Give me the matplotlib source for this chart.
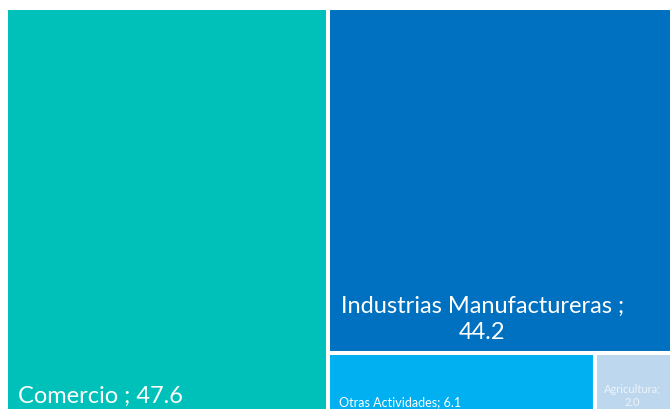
import matplotlib.pyplot as plt
from matplotlib.patches import Rectangle

labels = ["Comercio", "Industrias Manufactureras", "Otras Actividades", "Agricultura"]
values = [47.6, 44.2, 6.1, 2.0]
colors = ["#00C1B9", "#0070C0", "#00B0F0", "#BDD7EE"]

plt.rcParams["font.family"] = ["Lato", "DejaVu Sans"]

fig = plt.figure(figsize=(6.7, 4.1), dpi=100)
# plot area runs a little past the right and bottom edges of the picture
ax = fig.add_axes([6 / 670, -7 / 410, 676 / 670, 408 / 410])
ax.set_xlim(0, 1)
ax.set_ylim(0, 1)
ax.axis("off")

total = sum(values)
rest = sum(values[1:])
small = sum(values[2:])

# slice-and-dice layout
w0 = values[0] / total
h1 = values[1] / rest
w2 = values[2] / small
rects = [
    (0, 0, w0, 1),
    (w0, 1 - h1, 1 - w0, h1),
    (w0, 0, (1 - w0) * w2, 1 - h1),
    (w0 + (1 - w0) * w2, 0, (1 - w0) * (1 - w2), 1 - h1),
]

for (x, y, w, h), c in zip(rects, colors):
    ax.add_patch(Rectangle((x, y), w, h, facecolor=c, edgecolor="white", linewidth=2.9))

x, y, w, h = rects[0]
ax.annotate(f"{labels[0]} ; {values[0]}", (x, y), xytext=(8.5, 10), textcoords="offset points",
            color="white", fontsize=17, ha="left", va="baseline")

x, y, w, h = rects[1]
ax.annotate(f"{labels[1]} ;\n{values[1]}", (x, y), xytext=(9, 11), textcoords="offset points",
            color="white", fontsize=17, ha="left", va="baseline", multialignment="center",
            linespacing=1.3)

x, y, w, h = rects[2]
ax.annotate(f"{labels[2]}; {values[2]}", (x, y), xytext=(8, 8), textcoords="offset points",
            color="white", fontsize=9, ha="left", va="baseline")

x, y, w, h = rects[3]
ax.annotate(f"{labels[3]};\n{values[3]}", (x + w / 2, y), xytext=(-4.5, 8), textcoords="offset points",
            color="#EEF3FA", fontsize=8, ha="center", va="baseline", linespacing=1.25)

fig.savefig("out.png", dpi=100)
